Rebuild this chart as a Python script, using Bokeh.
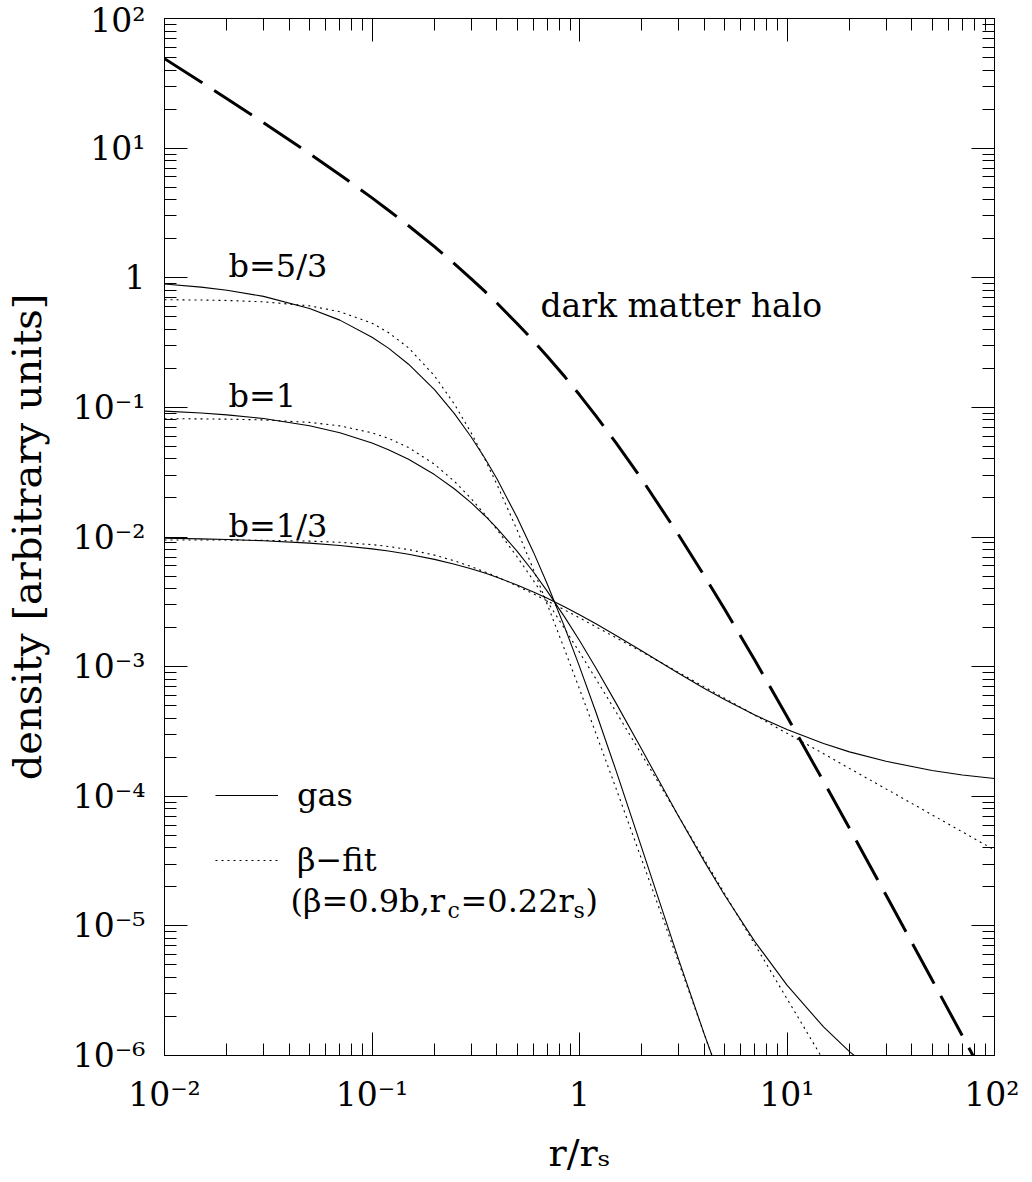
import math
from bokeh.plotting import figure
from bokeh.models import Range1d, FixedTicker, LogAxis, Label, Legend, LegendItem
from bokeh.embed import file_html
from bokeh.resources import INLINE

FONT = "DejaVu Serif"

# radius in units of r_s
r = [0.01, 0.015, 0.02, 0.03, 0.05, 0.07, 0.1, 0.12, 0.15, 0.2, 0.25, 0.3, 0.35, 0.4, 0.5,
     0.6, 0.7, 0.85, 1, 1.2, 1.5, 2, 3, 4, 5, 7, 10, 15, 20, 30, 50, 70, 100]

dm_halo = [49.0, 32.4, 24.0, 15.7, 9.07, 6.24, 4.13, 3.32, 2.52, 1.736, 1.28, 0.986, 0.784,
           0.638, 0.444, 0.326, 0.247, 0.172, 0.125, 0.0861, 0.0533, 0.0278, 0.0104, 0.0050,
           0.00278, 0.00112, 4.13e-4, 1.30e-4, 5.67e-5, 1.73e-5, 3.84e-6, 1.42e-6, 4.9e-7]

gas_b53 = [0.894, 0.846, 0.801, 0.718, 0.580, 0.471, 0.348, 0.2863, 0.2153, 0.1369, 0.0892,
           0.0594, 0.0405, 0.0281, 0.0142, 0.00764, 0.00432, 0.00200, 0.00100, 4.45e-4,
           1.576e-4, 3.94e-5, 5.54e-6, 1.45e-6, 5.4e-7]
gas_b1 = [0.0935, 0.0905, 0.0875, 0.0820, 0.0721, 0.0637, 0.0531, 0.0472, 0.0398, 0.0303,
          0.02345, 0.0184, 0.01459, 0.0117, 0.00779, 0.00537, 0.00381, 0.00240, 0.00159,
          9.76e-4, 5.23e-4, 2.28e-4, 7.02e-5, 3.13e-5, 1.73e-5, 7.56e-6, 3.49e-6, 1.66e-6,
          1.07e-6, 6.43e-7]
gas_b13 = [0.00978, 0.00967, 0.00957, 0.00936, 0.00897, 0.00860, 0.00810, 0.00779, 0.00736,
           0.00672, 0.00617, 0.00569, 0.00527, 0.00489, 0.00427, 0.00377, 0.00337, 0.00288,
           0.00251, 0.00214, 0.00174, 0.00132, 8.89e-4, 6.79e-4, 5.57e-4, 4.23e-4, 3.27e-4,
           2.55e-4, 2.20e-4, 1.86e-4, 1.58e-4, 1.46e-4, 1.37e-4]

fit_b53 = [0.677, 0.673, 0.668, 0.652, 0.607, 0.547, 0.446, 0.378, 0.288, 0.1753, 0.1053,
           0.0640, 0.0398, 0.02546, 0.01135, 0.00560, 0.00301, 0.00134, 6.72e-4, 3.05e-4,
           1.149e-4, 3.21e-5, 5.26e-6, 1.45e-6, 5.3e-7]
fit_b1 = [0.0818, 0.0815, 0.0811, 0.0800, 0.0766, 0.0720, 0.0636, 0.0577, 0.0490, 0.0364,
          0.0268, 0.01985, 0.01493, 0.01143, 0.00704, 0.00461, 0.00317, 0.00195, 0.00129,
          8.04e-4, 4.47e-4, 2.08e-4, 7.03e-5, 3.24e-5, 1.78e-5, 7.18e-6, 2.74e-6, 9.2e-7, 4.2e-7]
fit_b13 = [0.00949, 0.00948, 0.00947, 0.00942, 0.00929, 0.00910, 0.00873, 0.00845, 0.00800,
           0.00725, 0.00654, 0.00592, 0.00538, 0.00493, 0.00419, 0.00364, 0.00321, 0.00273,
           0.00238, 0.00203, 0.00167, 0.00130, 9.03e-4, 6.97e-4, 5.71e-4, 4.22e-4, 3.06e-4,
           2.13e-4, 1.64e-4, 1.14e-4, 7.19e-5, 5.31e-5, 3.85e-5]

x_ticks = [0.01, 0.1, 1, 10, 100]
x_tick_labels = ["10\u207b\u00b2", "10\u207b\u00b9", "1", "10\u00b9", "10\u00b2"]
y_ticks = [1e-6, 1e-5, 1e-4, 1e-3, 1e-2, 1e-1, 1, 10, 100]
y_tick_labels = ["10\u207b\u2076", "10\u207b\u2075", "10\u207b\u2074", "10\u207b\u00b3",
                 "10\u207b\u00b2", "10\u207b\u00b9", "1", "10\u00b9", "10\u00b2"]

curve_labels = ["b=5/3", "b=1", "b=1/3"]


def minor(ticks):
    return [k * t for t in ticks[:-1] for k in range(2, 10)]


# frame geometry (page pixels) used only to place annotation texts
FL, FR, FT, FB = 169, 999, 18, 1055


def px2x(px):
    return 10 ** (-2 + 4 * (px - FL) / (FR - FL))


def py2y(py):
    return 10 ** (2 - 8 * (py - FT) / (FB - FT))


p = figure(frame_width=FR - FL, frame_height=FB - FT,
           x_axis_type="log", y_axis_type="log",
           x_range=Range1d(0.01, 100), y_range=Range1d(1e-6, 100),
           output_backend="svg", toolbar_location=None,
           min_border_left=161, min_border_top=18, min_border_right=25, min_border_bottom=119,
           background_fill_color="white", border_fill_color="white")
p.xgrid.visible = False
p.ygrid.visible = False
p.outline_line_color = "black"
p.outline_line_width = 1


def style_axis(ax, ticks, labels=None):
    ax.ticker = FixedTicker(ticks=ticks, minor_ticks=minor(ticks))
    ax.axis_line_color = "black"
    ax.axis_line_width = 1
    ax.major_tick_in = 23
    ax.major_tick_out = 0
    ax.minor_tick_in = 12
    ax.minor_tick_out = 0
    ax.major_tick_line_color = "black"
    ax.minor_tick_line_color = "black"
    ax.major_tick_line_width = 1
    ax.minor_tick_line_width = 1
    if labels is None:
        ax.major_label_text_color = None
        ax.major_label_text_font_size = "1px"
        ax.major_label_standoff = 0
    else:
        ax.major_label_overrides = dict(zip(ticks, labels))
        ax.major_label_text_font = FONT
        ax.major_label_text_font_size = "33px"
        ax.major_label_text_color = "black"


style_axis(p.xaxis[0], x_ticks, x_tick_labels)
style_axis(p.yaxis[0], y_ticks, y_tick_labels)
p.xaxis[0].major_label_standoff = 19
p.yaxis[0].major_label_standoff = 19

p.xaxis[0].axis_label = "r/r\u209b"
p.yaxis[0].axis_label = "density [arbitrary units]"
for ax, fs in ((p.xaxis[0], "38px"), (p.yaxis[0], "40px")):
    ax.axis_label_text_font = FONT
    ax.axis_label_text_font_size = fs
    ax.axis_label_text_font_style = "normal"
    ax.axis_label_text_color = "black"
p.xaxis[0].axis_label_standoff = 14
p.yaxis[0].axis_label_standoff = 20

top_ax = LogAxis()
style_axis(top_ax, x_ticks)
p.add_layout(top_ax, "above")
right_ax = LogAxis()
style_axis(right_ax, y_ticks)
p.add_layout(right_ax, "right")

# curves
p.line(r, dm_halo, line_color="black", line_width=3, line_dash="45 14")
g53 = p.line(r[:len(gas_b53)], gas_b53, line_color="black", line_width=1.1)
p.line(r[:len(gas_b1)], gas_b1, line_color="black", line_width=1.1)
p.line(r[:len(gas_b13)], gas_b13, line_color="black", line_width=1.1)
f53 = p.line(r[:len(fit_b53)], fit_b53, line_color="black", line_width=1.1, line_dash="2 4")
p.line(r[:len(fit_b1)], fit_b1, line_color="black", line_width=1.1, line_dash="2 4")
p.line(r[:len(fit_b13)], fit_b13, line_color="black", line_width=1.1, line_dash="2 4")

# curve labels
for txt, py in zip(curve_labels, [265, 395, 525]):
    p.add_layout(Label(x=px2x(233), y=py2y(py), text=txt, text_font=FONT,
                       text_font_size="32px", text_color="black", text_baseline="alphabetic"))
p.add_layout(Label(x=px2x(545), y=py2y(305), text="dark matter halo", text_font=FONT,
                   text_font_size="33px", text_color="black", text_baseline="alphabetic"))

# legend
legend = Legend(items=[LegendItem(label="gas", renderers=[g53]),
                       LegendItem(label="\u03b2\u2212fit", renderers=[f53])],
                location=(51, 176), padding=0, margin=0, spacing=27,
                glyph_width=63, glyph_height=20, label_height=20, label_standoff=19,
                label_text_font=FONT, label_text_font_size="32px",
                label_text_baseline="alphabetic", label_text_color="black",
                border_line_color=None, background_fill_alpha=0)
p.add_layout(legend)

pieces = [("(\u03b2=0.9b,r", 295, 900, "32px"), ("c", 452, 910, "22px"),
          ("=0.22r", 465, 900, "32px"), ("s", 578, 910, "22px"), (")", 590, 900, "32px")]
for txt, px, py, fs in pieces:
    p.add_layout(Label(x=px2x(px), y=py2y(py), text=txt, text_font=FONT,
                       text_font_size=fs, text_color="black", text_baseline="alphabetic"))

open("out.html", "w").write(file_html(p, INLINE))
